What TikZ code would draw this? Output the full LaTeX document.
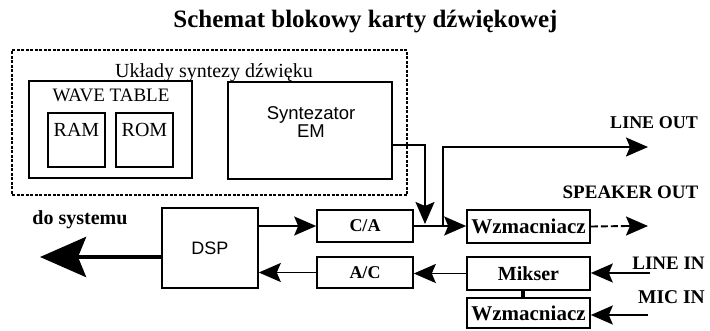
\documentclass[tikz,border=0pt]{standalone}
\usepackage{fontspec}
\setmainfont{Liberation Serif}
\setsansfont{Liberation Sans}
\usetikzlibrary{arrows.meta,calc}
\newcommand\myfs[1]{\fontsize{#1}{#1}\selectfont}
\begin{document}
\begin{tikzpicture}[x=1pt,y=-1pt,
  box/.style={draw, line width=1.6pt, inner sep=0pt, align=center},
  dotbox/.style={draw, line width=1.8pt, dash pattern=on 3pt off 1.5pt},
  conn/.style={line width=1.9pt},
  thickc/.style={line width=4pt},
  arr/.style={conn, -{Stealth[length=22pt,width=19pt,inset=4pt]}},
  bigarr/.style={line width=4.5pt, -{Stealth[length=46pt,width=40pt,inset=8pt]}},
  lbl/.style={inner sep=0pt, font=\bfseries\myfs{19}},
  bx/.style={box, font=\bfseries\myfs{#1}},
]
\useasboundingbox (0,0) rectangle (710,330);

\node[inner sep=0pt, font=\bfseries\myfs{25}] (title) at (365.5,22) {Schemat blokowy karty dźwiękowej};

% synthesis group
\node[dotbox, minimum width=395pt, minimum height=145pt, inner sep=0pt] (synth) at (209.5,122.5) {};
\node[inner sep=0pt, font=\myfs{20}] (synthlbl) at (214,73) {Układy syntezy dźwięku};

\node[box, minimum width=163pt, minimum height=97pt] (wt) at (110.5,129.5) {};
\node[inner sep=0pt, font=\myfs{19}] (wtlbl) at (111,95) {WAVE TABLE};
\node[box, minimum width=57pt, minimum height=54pt] (ram) at (76.5,140) {};
\node[inner sep=0pt, font=\myfs{20}] (ramlbl) at (76.5,130) {RAM};
\node[box, minimum width=57pt, minimum height=54pt] (rom) at (144.5,140) {};
\node[inner sep=0pt, font=\myfs{20}] (romlbl) at (144.5,130) {ROM};

\node[box, minimum width=164pt, minimum height=97pt] (em) at (310,130.5) {};
\node[inner sep=0pt, align=center, font=\sffamily\myfs{18.5}] (emlbl) at (311,122) {Syntezator\\[-1pt]EM};

% processing blocks
\node[box, minimum width=96pt, minimum height=80pt, font=\sffamily\myfs{18}] (dsp) at (210,248) {DSP};
\node[bx=18, minimum width=96pt, minimum height=32pt] (ca) at (365,226) {C/A};
\node[bx=18, minimum width=96pt, minimum height=31pt] (ac) at (365,272.5) {A/C};
\node[bx=21, minimum width=123pt, minimum height=33pt] (wz1) at (528.5,226.5) {Wzmacniacz};
\node[bx=20, minimum width=123pt, minimum height=33pt] (mik) at (528.5,273.5) {Mikser};
\node[bx=21, minimum width=123pt, minimum height=30pt] (wz2) at (528.5,313) {Wzmacniacz};

% external labels
\node[inner sep=0pt, font=\bfseries\myfs{20}] (sysl) at (80,220) {do systemu};
\node[lbl, font=\bfseries\myfs{18}] (lol) at (654,123) {LINE OUT};
\node[lbl] (sol) at (630.5,192) {SPEAKER OUT};
\node[lbl] (lil) at (668.5,263) {LINE IN};
\node[lbl, font=\bfseries\myfs{19.5}] (mil) at (671.5,297) {MIC IN};

% free ends
\coordinate (sys) at (40,257);
\coordinate (emtip) at (425,224);
\coordinate (jn) at (443,226);
\coordinate (lo) at (648,147);
\coordinate (so) at (648,226);
\coordinate (li) at (650,273);
\coordinate (mi) at (648,315);

% connectors
\draw[thickc] ($(wt.south east)+(-10,0)$) -- ($(wt.south east)+(-10,0)$ |- dsp.north);
\draw[arr] ($(em.east)+(0,14.5)$) -| (emtip);
\draw[arr] (dsp.east |- ca.west) -- (ca.west);
\draw[arr] (ac.west) -- (ac.west -| dsp.east);
\draw[bigarr] ($(dsp.west)+(0,9)$) -- (sys);
\draw[arr] (ca.east) -- (ca.east -| wz1.west);
\draw[arr] (jn) |- (lo);
\draw[conn, dash pattern=on 7pt off 3pt] (wz1.east) -- ($(so)+(-20,0)$);
\draw[arr] ($(so)+(-22,0)$) -- (so);
\draw[arr] (li) -- (li -| mik.east);
\draw[arr] (mik.west) -- (mik.west -| ac.east);
\draw[arr] (mi) -- (mi -| wz2.east);
\draw[thickc] ($(mik.south)+(-5.5,0)$) -- ($(wz2.north)+(-5.5,0)$);
\end{tikzpicture}
\end{document}
